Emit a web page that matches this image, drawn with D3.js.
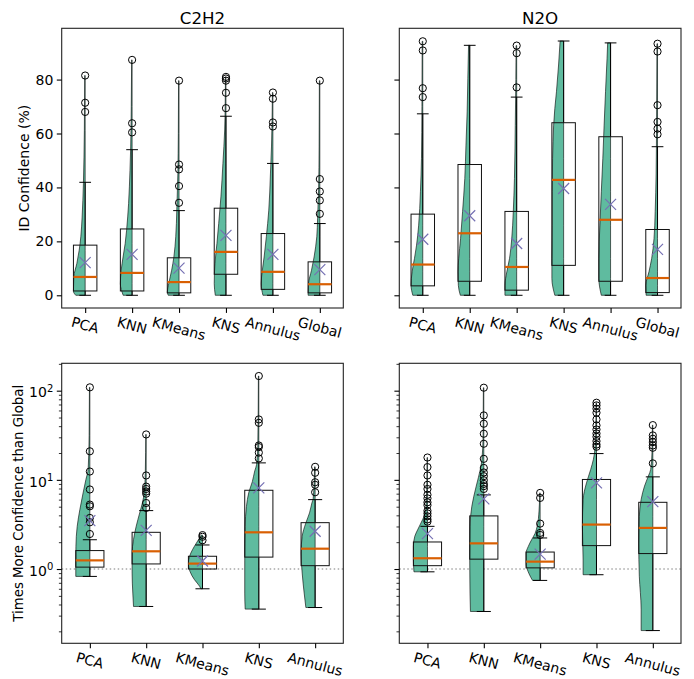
<!DOCTYPE html>
<html>
<head>
<meta charset="utf-8">
<script src="https://cdn.jsdelivr.net/npm/d3@7"></script>
<style>
  body { margin: 0; background: #fff; }
  text { font-family: "DejaVu Sans", sans-serif; fill: #000; }
</style>
</head>
<body>
<svg id="fig" width="694" height="679"></svg>
<script>
// ---------------- data ----------------
const gasNames = ["C2H2", "N2O"];
const confMethods = ["PCA", "KNN", "KMeans", "KNS", "Annulus", "Global"];
const ratioMethods = ["PCA", "KNN", "KMeans", "KNS", "Annulus"];
const confTicks = [0, 20, 40, 60, 80];
const ratioTicks = [1, 10, 100];
const ratioMinorTicks = [0.2,0.3,0.4,0.5,0.6,0.7,0.8,0.9,2,3,4,5,6,7,8,9,20,30,40,50,60,70,80,90,200];

// box statistics per method: [low whisker, Q1, median, Q3, high whisker, mean]
const c2h2ConfStats = [
  [0, 1.6, 6.8, 18.6, 41.9, 12.1],
  [0, 1.6, 8.3, 24.6, 54.0, 15.2],
  [0, 0.9, 4.9, 13.9, 31.4, 10.1],
  [0, 7.8, 16.1, 32.3, 66.4, 22.2],
  [0, 2.2, 8.7, 22.9, 48.9, 15.2],
  [0, 0.9, 4.1, 12.4, 26.6, 9.5]
];
const c2h2ConfOutliers = [
  [81.5, 71.4, 68.0],
  [87.3, 63.8, 60.4],
  [79.6, 48.5, 46.7, 40.5, 34.3],
  [81.0, 80.4, 79.6, 75.1, 69.4],
  [75.2, 72.9, 64.1, 62.6],
  [79.6, 43.1, 38.5, 35.2, 30.2]
];
const n2oConfStats = [
  [0, 3.5, 11.4, 30.1, 67.3, 20.8],
  [0, 5.2, 23.0, 48.5, 92.7, 29.5],
  [0, 1.9, 10.5, 31.1, 73.5, 19.2],
  [0, 11.1, 42.8, 64.0, 94.3, 39.6],
  [0, 5.2, 28.0, 58.8, 93.6, 33.7],
  [0, 1.0, 6.4, 24.4, 55.1, 17.0]
];
const n2oConfOutliers = [
  [94.2, 90.8, 76.8, 73.5],
  [],
  [92.6, 89.8, 77.1],
  [],
  [],
  [93.3, 90.4, 70.5, 64.3, 61.8, 59.7]
];
const c2h2RatioStats = [
  [0.826, 1.05, 1.25, 1.61, 2.13, 3.49],
  [0.38, 1.14, 1.58, 2.58, 4.52, 2.71],
  [0.60, 1.0, 1.15, 1.39, 1.86, 1.23],
  [0.355, 1.36, 2.58, 7.64, 15.5, 8.13],
  [0.37, 1.09, 1.69, 3.31, 6.0, 2.65]
];
const c2h2RatioOutliers = [
  [109, 20.9, 12.4, 7.8, 5.28, 5.05, 3.74, 3.34, 2.47],
  [32.3, 11.2, 8.4, 7.9, 7.4, 7.0, 5.5, 4.84],
  [2.4, 2.3, 2.1],
  [146, 47.6, 43.6, 24.3, 23.3, 20.2, 17.4],
  [14.0, 12.0, 9.4, 8.8, 7.26]
];
const n2oRatioStats = [
  [0.93, 1.09, 1.32, 2.01, 3.01, 2.49],
  [0.334, 1.29, 1.94, 3.94, 6.78, 6.11],
  [0.745, 1.03, 1.21, 1.55, 2.23, 1.47],
  [0.863, 1.83, 3.15, 10.1, 19.7, 9.25],
  [0.204, 1.49, 2.89, 5.6, 10.8, 5.7]
];
const n2oRatioOutliers = [
  [17.8, 13.9, 11.2, 8.8, 7.9, 6.8, 6.2, 5.6, 5.2, 4.5, 4.2, 3.9, 3.6, 3.4],
  [108, 52.8, 42.6, 32.9, 25.4, 17.2, 13.6, 12.1, 11.0, 9.9, 9.0, 8.5, 7.9],
  [7.14, 6.27, 3.23, 2.54, 2.41],
  [73.3, 68.4, 62.8, 56.6, 47.6, 40.8, 36.7, 33.1, 30.4, 27.2, 24.9, 23.5],
  [41.1, 31.5, 28.9, 26.5, 24.3, 22.9, 15.3]
];

// half-violin density profiles: [value, relative density]
const c2h2ConfViolin = [
  [[0,0.80],[1.5,1.0],[6.8,0.97],[11.8,0.71],[16.7,0.51],[21.7,0.37],[29,0.26],[41.5,0.15],[61,0.07],[81.5,0.04]],
  [[0,0.76],[4.3,1.0],[9.3,0.93],[14.2,0.77],[19.2,0.59],[24.1,0.47],[34,0.30],[46.4,0.18],[55,0.12],[70,0.07],[87.3,0.04]],
  [[0,0.92],[1.2,1.0],[4.3,0.88],[9.3,0.63],[14.2,0.44],[21.7,0.28],[31.6,0.19],[45,0.10],[60,0.06],[79.6,0.04]],
  [[0,0.91],[4.3,1.0],[11.8,0.94],[19.2,0.77],[26.6,0.62],[36.5,0.43],[48.9,0.26],[61.3,0.11],[72,0.06],[81,0.04]],
  [[0,0.85],[4.3,1.0],[9.3,0.90],[14.2,0.75],[21.7,0.56],[31.6,0.35],[45,0.21],[55,0.12],[65,0.07],[75.2,0.04]],
  [[0,1.0],[4.3,0.97],[9.3,0.71],[14.2,0.49],[21.7,0.26],[28.4,0.19],[40,0.10],[55,0.06],[79.6,0.04]]
];
const n2oConfViolin = [
  [[0,0.85],[3.7,1.0],[8.7,0.91],[13.6,0.71],[18.6,0.53],[26,0.35],[38.4,0.20],[50.8,0.11],[70,0.07],[94.2,0.05]],
  [[0,0.80],[3.7,0.97],[8.7,1.0],[13.6,0.94],[21,0.78],[31,0.61],[43.3,0.42],[55.7,0.32],[68,0.22],[80.5,0.16],[92.7,0.10]],
  [[0,1.0],[3.7,1.0],[8.7,0.84],[13.6,0.61],[21,0.42],[31,0.29],[43.3,0.19],[63,0.12],[80,0.07],[92.6,0.05]],
  [[0,0.75],[6.2,1.0],[13.6,1.0],[26,0.97],[38.4,0.97],[50.8,0.94],[63.1,0.85],[69.3,0.75],[75.5,0.61],[85.4,0.43],[94.3,0.30]],
  [[0,0.79],[6.2,1.0],[13.6,1.0],[26,0.91],[38.4,0.79],[50.8,0.66],[63.1,0.55],[75.5,0.43],[87.9,0.30],[93.6,0.25]],
  [[0,0.97],[3.7,1.0],[8.7,0.73],[13.6,0.50],[21,0.30],[31,0.20],[45,0.12],[65,0.08],[93.3,0.05]]
];
const c2h2RatioViolin = [
  [[0.826,1.0],[1.07,1.0],[1.79,0.99],[3.01,0.90],[4.65,0.71],[7.14,0.48],[10.1,0.28],[13.1,0.12],[31.6,0.05],[109,0.03]],
  [[0.38,0.90],[0.537,0.95],[0.90,1.0],[1.51,1.0],[2.14,0.90],[3.01,0.71],[4.26,0.46],[5.51,0.27],[7.14,0.14],[12.6,0.06],[32.3,0.03]],
  [[0.60,0.12],[0.638,0.20],[0.759,0.57],[0.94,0.89],[1.167,1.0],[1.387,0.92],[1.648,0.71],[1.96,0.43],[2.23,0.21],[2.4,0.10]],
  [[0.355,0.97],[0.537,1.0],[1.26,1.0],[3.01,0.97],[5.01,0.88],[7.24,0.71],[9.55,0.46],[12.6,0.29],[14.8,0.16],[25,0.07],[146,0.03]],
  [[0.37,0.66],[0.537,0.78],[0.90,0.92],[1.51,1.0],[2.33,0.92],[3.29,0.66],[4.26,0.40],[5.51,0.23],[6.17,0.14],[10,0.06],[14,0.04]]
];
const n2oRatioViolin = [
  [[0.93,0.96],[1.3,1.0],[1.79,1.0],[2.33,0.90],[2.75,0.70],[3.29,0.46],[3.91,0.24],[4.47,0.13],[7.9,0.05],[17.8,0.03]],
  [[0.334,0.95],[0.537,0.98],[1.26,1.0],[3.01,0.98],[5.06,0.85],[8.49,0.54],[13.1,0.25],[17,0.13],[31.6,0.05],[108,0.03]],
  [[0.745,0.54],[0.885,0.79],[1.15,1.0],[1.51,1.0],[1.78,0.85],[2.14,0.60],[2.51,0.36],[3.02,0.21],[4.47,0.08],[7.14,0.03]],
  [[0.863,0.95],[1.26,0.95],[3.01,1.0],[6.01,0.95],[9.25,0.71],[13.1,0.41],[17,0.22],[20,0.14],[31.6,0.06],[73.3,0.03]],
  [[0.204,0.83],[0.355,0.83],[0.83,0.96],[1.95,1.0],[3.89,0.96],[6.03,0.83],[8.51,0.59],[11,0.32],[13.1,0.15],[20,0.06],[41.1,0.03]]
];

// ---------------- styling ----------------
const violinFill = "#5fbb9f";
const medianColor = "#d95f02";
const meanColor = "#7570b3";
const tickFont = 14;

const svg = d3.select("#fig");

// frames of the four axes
const cols = [{ left: 61.7, right: 343.3 }, { left: 399.3, right: 681 }];
const rows = [{ top: 28.3, bottom: 308 }, { top: 363.3, bottom: 643.3 }];

// shared y scales (5% margin on data extent, like the plotting default)
const confHi = d3.max([...c2h2ConfStats, ...n2oConfStats].map(s => s[4])
  .concat(c2h2ConfOutliers.flat(), n2oConfOutliers.flat()));
const confPad = confHi * 0.05;
const yConf = d3.scaleLinear().domain([-confPad, confHi + confPad]).range([rows[0].bottom, rows[0].top]);

const ratioLo = Math.log10(d3.min([...c2h2RatioStats, ...n2oRatioStats].map(s => s[0])));
const ratioHiVal = Math.log10(d3.max([...c2h2RatioStats, ...n2oRatioStats].map(s => s[4])
  .concat(c2h2RatioOutliers.flat(), n2oRatioOutliers.flat())));
const ratioPad = (ratioHiVal - ratioLo) * 0.05;
const yRatio = d3.scaleLog()
  .domain([Math.pow(10, ratioLo - ratioPad), Math.pow(10, ratioHiVal + ratioPad)])
  .range([rows[1].bottom, rows[1].top]);

function drawPanel(cfg) {
  const { col, row, cats, stats, outliers, violins, y, isLog, yLabels } = cfg;
  const L = cols[col].left, R = cols[col].right, T = rows[row].top, B = rows[row].bottom;
  const n = cats.length;
  const x = d3.scaleLinear().domain([0.5, n + 0.5]).range([L, R]);
  const g = svg.append("g");

  // reference line at ratio 1
  if (isLog) {
    g.append("line")
      .attr("x1", L).attr("x2", R)
      .attr("y1", y(1)).attr("y2", y(1))
      .attr("stroke", "#a8a8a8").attr("stroke-width", 1.5)
      .attr("stroke-dasharray", "1.5,2.5");
  }

  const unit = x(1) - x(0); // px per category unit

  // half violins on the left side of each position
  violins.forEach((prof, i) => {
    const cx = x(i + 1);
    const wmax = d3.max(prof, d => d[1]);
    const half = 0.25 * unit;
    const pts = prof.slice().sort((a, b) => b[0] - a[0]);
    const area = d3.area()
      .curve(d3.curveMonotoneY)
      .y(d => y(d[0]))
      .x0(d => cx - half * d[1] / wmax)
      .x1(cx);
    g.append("path")
      .attr("d", area(pts))
      .attr("fill", violinFill)
      .attr("stroke", "#000")
      .attr("stroke-opacity", 0.6)
      .attr("stroke-width", 1);
  });

  // box plots
  stats.forEach((s, i) => {
    const [lo, q1, med, q3, hi, mean] = s;
    const cx = x(i + 1);
    const bw = 0.25 * unit;   // half box width
    const cw = 0.125 * unit;  // half cap width
    const bg = g.append("g");
    bg.append("line").attr("x1", cx).attr("x2", cx).attr("y1", y(q3)).attr("y2", y(hi))
      .attr("stroke", "#000").attr("stroke-width", 1);
    bg.append("line").attr("x1", cx).attr("x2", cx).attr("y1", y(q1)).attr("y2", y(lo))
      .attr("stroke", "#000").attr("stroke-width", 1);
    [hi, lo].forEach(v => {
      bg.append("line").attr("x1", cx - cw).attr("x2", cx + cw).attr("y1", y(v)).attr("y2", y(v))
        .attr("stroke", "#000").attr("stroke-width", 1);
    });
    bg.append("rect")
      .attr("x", cx - bw).attr("width", 2 * bw)
      .attr("y", y(q3)).attr("height", y(q1) - y(q3))
      .attr("fill", "none").attr("stroke", "#111").attr("stroke-width", 1);
    bg.append("line").attr("x1", cx - bw).attr("x2", cx + bw).attr("y1", y(med)).attr("y2", y(med))
      .attr("stroke", medianColor).attr("stroke-width", 2.2);
    outliers[i].forEach(v => {
      bg.append("circle").attr("cx", cx).attr("cy", y(v)).attr("r", 3.6)
        .attr("fill", "none").attr("stroke", "#000").attr("stroke-width", 1);
    });
    const m = 5.5, my = y(mean);
    bg.append("path")
      .attr("d", `M${cx - m},${my - m}L${cx + m},${my + m}M${cx - m},${my + m}L${cx + m},${my - m}`)
      .attr("stroke", meanColor).attr("stroke-width", 1.2).attr("fill", "none");
  });

  // frame
  g.append("rect").attr("x", L).attr("y", T).attr("width", R - L).attr("height", B - T)
    .attr("fill", "none").attr("stroke", "#222").attr("stroke-width", 1.1);

  // x axis ticks
  const xa = g.append("g").attr("transform", `translate(0,${B})`)
    .call(d3.axisBottom(x).tickValues(d3.range(1, n + 1)).tickSize(4.9).tickFormat(""));
  xa.select(".domain").remove();
  xa.selectAll("line").attr("stroke-width", 1.1);

  // rotated category labels
  const s15 = Math.sin(15 * Math.PI / 180);
  cats.forEach((c, i) => {
    const t = g.append("text")
      .attr("font-size", tickFont)
      .attr("text-anchor", "middle")
      .attr("dominant-baseline", "central")
      .text(c);
    const len = t.node().getComputedTextLength();
    const cy = B + 13.5 + len * s15 / 2;
    t.attr("transform", `translate(${x(i + 1)},${cy}) rotate(15)`);
  });

  // y axis
  if (!isLog) {
    const ya = g.append("g").attr("transform", `translate(${L},0)`)
      .call(d3.axisLeft(y).tickValues(confTicks).tickSize(4.9).tickFormat(""));
    ya.select(".domain").remove();
    ya.selectAll("line").attr("stroke-width", 1.1);
    if (yLabels) {
      confTicks.forEach(v => {
        g.append("text").attr("x", L - 8.4).attr("y", y(v))
          .attr("text-anchor", "end").attr("dominant-baseline", "central")
          .attr("font-size", tickFont).text(v);
      });
    }
  } else {
    const ya = g.append("g").attr("transform", `translate(${L},0)`)
      .call(d3.axisLeft(y).tickValues(ratioTicks).tickSize(4.9).tickFormat(""));
    ya.select(".domain").remove();
    ya.selectAll("line").attr("stroke-width", 1.1);
    const ym = g.append("g").attr("transform", `translate(${L},0)`)
      .call(d3.axisLeft(y).tickValues(ratioMinorTicks).tickSize(2.8).tickFormat(""));
    ym.select(".domain").remove();
    ym.selectAll("line").attr("stroke-width", 0.8);
    if (yLabels) {
      ratioTicks.forEach(v => {
        const e = Math.round(Math.log10(v));
        const t = g.append("text").attr("x", L - 8.4).attr("y", y(v) + 6.7)
          .attr("text-anchor", "end").attr("font-size", tickFont);
        t.append("tspan").text("10");
        t.append("tspan").attr("font-size", 10).attr("dy", -5.8).text(e);
      });
    }
  }
}

drawPanel({ col: 0, row: 0, cats: confMethods, stats: c2h2ConfStats, outliers: c2h2ConfOutliers,
  violins: c2h2ConfViolin, y: yConf, isLog: false, yLabels: true });
drawPanel({ col: 1, row: 0, cats: confMethods, stats: n2oConfStats, outliers: n2oConfOutliers,
  violins: n2oConfViolin, y: yConf, isLog: false, yLabels: false });
drawPanel({ col: 0, row: 1, cats: ratioMethods, stats: c2h2RatioStats, outliers: c2h2RatioOutliers,
  violins: c2h2RatioViolin, y: yRatio, isLog: true, yLabels: true });
drawPanel({ col: 1, row: 1, cats: ratioMethods, stats: n2oRatioStats, outliers: n2oRatioOutliers,
  violins: n2oRatioViolin, y: yRatio, isLog: true, yLabels: false });

// titles
gasNames.forEach((name, i) => {
  svg.append("text")
    .attr("x", (cols[i].left + cols[i].right) / 2).attr("y", 23.5)
    .attr("text-anchor", "middle").attr("font-size", 16.7).text(name);
});

// y axis labels
svg.append("text")
  .attr("transform", `translate(24,${(rows[0].top + rows[0].bottom) / 2}) rotate(-90)`)
  .attr("text-anchor", "middle").attr("dominant-baseline", "central")
  .attr("font-size", 14).text("ID Confidence (%)");
svg.append("text")
  .attr("transform", `translate(18.5,${(rows[1].top + rows[1].bottom) / 2}) rotate(-90)`)
  .attr("text-anchor", "middle").attr("dominant-baseline", "central")
  .attr("font-size", 13.3).text("Times More Confidence than Global");
</script>
</body>
</html>
